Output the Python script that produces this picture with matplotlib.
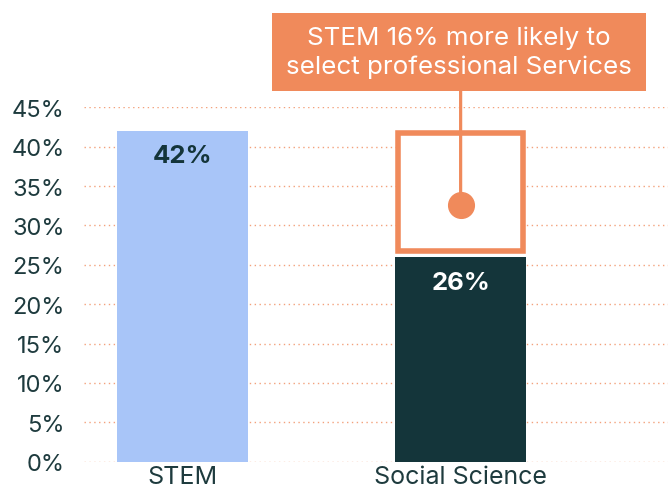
import matplotlib
matplotlib.use('Agg')
import matplotlib.pyplot as plt
from matplotlib.patches import Rectangle

plt.rcParams['font.family'] = ['Inter', 'DejaVu Sans']

# 数据
categories = ['STEM', 'Social Science']
values = [42, 26]
value_labels = ['42%', '26%']
yticks = [0, 5, 10, 15, 20, 25, 30, 35, 40, 45]
note = 'STEM 16% more likely to\nselect professional Services'

light_blue = '#A8C5F8'
dark_teal = '#14353A'
orange = '#F08A5B'
text_col = '#1E3B3E'

fig = plt.figure(figsize=(6.68, 4.89), dpi=100)
ax = fig.add_axes([0.1257, 0.0538, 0.8743, 0.7247])

x = list(range(len(categories)))
bw = 0.47
ax.bar(x, values, width=bw, color=[light_blue, dark_teal], zorder=2)

# 两组差值的框
gap = values[0] - values[1]
ax.bar(x[1], gap - 1.1, bottom=values[1] + 0.8, width=bw - 0.02,
       facecolor='white', edgecolor=orange, linewidth=4, zorder=3)

# 柱内数值
ax.text(x[0], values[0] - 3.1, value_labels[0], ha='center', va='center',
        fontsize=18.5, fontweight='bold', color=dark_teal, zorder=4)
ax.text(x[1], values[1] - 3.2, value_labels[1], ha='center', va='center',
        fontsize=18.5, fontweight='bold', color='white', zorder=4)

# 圆点和连线
circ_y = values[1] + gap / 2 - 1.4
ax.annotate('', xy=(x[1], circ_y), xycoords='data',
            xytext=(x[1], 0.812), textcoords=('data', 'figure fraction'),
            arrowprops=dict(arrowstyle='-', color=orange, lw=2.3,
                            shrinkA=0, shrinkB=0), zorder=4)
ax.plot(x[1], circ_y, 'o', ms=18.5, color=orange, zorder=5, clip_on=False)

# 顶部说明框
fig.patches.append(Rectangle((0.4072, 0.8119), 0.5599, 0.1595,
                             transform=fig.transFigure, facecolor=orange,
                             edgecolor='none', zorder=1))
fig.text(0.6871, 0.8916, note, ha='center', va='center', fontsize=18.7,
         color='white', linespacing=1.3)

ax.set_xlim(-0.355, 1.746)
ax.set_ylim(0, 45)
ax.set_yticks(yticks)
ax.set_yticklabels([f'{v}%' for v in yticks])
ax.set_xticks(x)
ax.set_xticklabels(categories)
ax.tick_params(axis='both', length=0, labelcolor=text_col)
ax.tick_params(axis='y', pad=14, labelsize=17)
ax.tick_params(axis='x', pad=2.5, labelsize=18)
for s in ax.spines.values():
    s.set_visible(False)
ax.yaxis.grid(True, linestyle=(0, (1, 2.5)), color=orange, linewidth=1,
              alpha=0.8, zorder=0)
ax.set_axisbelow(True)

plt.savefig('out.png', dpi=100)
